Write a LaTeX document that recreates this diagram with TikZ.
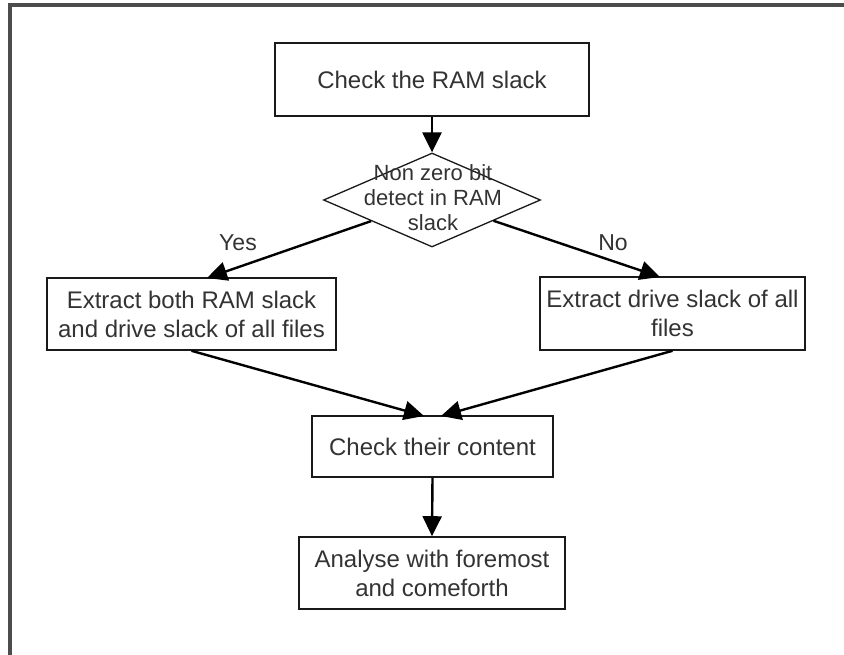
\documentclass[tikz,border=0pt]{standalone}
\usepackage{fontspec}
\setmainfont{Liberation Sans}
\usetikzlibrary{shapes.geometric,arrows.meta}
\begin{document}
\begin{tikzpicture}[x=1pt,y=-1pt,
  boxnode/.style={draw=black!90,line width=1.6pt,fill=white,align=center,inner sep=0pt,
     text=black!80,font=\fontsize{24}{29}\selectfont},
  decision/.style={diamond,draw=black!90,line width=1.3pt,fill=white,align=center,inner sep=0pt,
     text=black!80,font=\fontsize{22}{25}\selectfont},
  arr/.style={draw=black,line width=2.4pt,-{Triangle[length=20pt,width=19pt]}},
  lbl/.style={text=black!80,font=\fontsize{23}{27}\selectfont},
  framestyle/.style={draw=black!70,line width=3.5pt}]
\useasboundingbox (0,0) rectangle (844,655);
\fill[white] (0,0) rectangle (844,655);
\draw[framestyle] (10,655) -- (10,5) -- (844,5);

\node[boxnode,minimum width=314pt,minimum height=73pt] (top) at (432,79.5) {Check the RAM slack};
\node[decision,minimum width=217pt,minimum height=94pt] (d) at (432,200) {};
\node[text=black!80,font=\fontsize{22}{25}\selectfont,align=center] (dt) at (433,198) {Non zero bit\\detect in RAM\\slack};
\node[boxnode,minimum width=289pt,minimum height=72pt] (lb) at (191.5,314) {Extract both RAM slack\\and drive slack of all files};
\node[boxnode,minimum width=265pt,minimum height=73pt] (rb) at (672.5,313.5) {Extract drive slack of all\\files};
\node[boxnode,minimum width=241pt,minimum height=61pt] (cc) at (432.5,446.5) {Check their content};
\node[boxnode,minimum width=266pt,minimum height=72pt] (an) at (432,573) {Analyse with foremost\\and comeforth};

\coordinate (lbin) at (207,278);
\coordinate (rbin) at (660,277);
\coordinate (cin1) at (424,416);
\coordinate (cin2) at (441,416);

\draw[arr] (top.south) -- (d.north);
\draw[arr] (d) -- (lbin);
\draw[arr] (d) -- (rbin);
\draw[arr] (lb.south) -- (cin1);
\draw[arr] (rb.south) -- (cin2);
\draw[arr] (cc.south) -- (an.north);

\node[lbl] (yes) at (238,243) {Yes};
\node[lbl] (no) at (613,243) {No};
\end{tikzpicture}
\end{document}
